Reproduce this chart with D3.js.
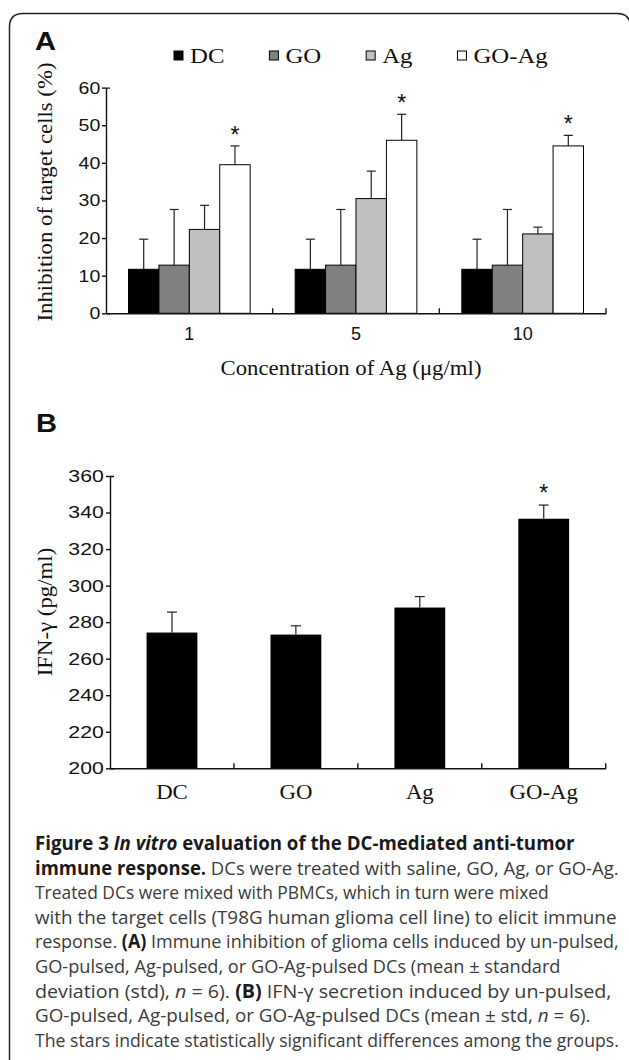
<!DOCTYPE html>
<html lang="en">
<head>
<meta charset="UTF-8" />
<title>Figure 3 - DC-mediated anti-tumor immune response</title>
<script src="https://cdn.jsdelivr.net/npm/d3@7"></script>
<style>
  body { margin: 0; background: #fff; }
</style>
</head>
<body>
<svg id="chart"></svg>
<script>
// ---- data ----
const concentrations = ["1", "5", "10"];
const groups = ["DC", "GO", "Ag", "GO-Ag"];

// panel A: inhibition of target cells (%), one value per concentration
const dcMean = [11.7, 11.7, 11.7];
const dcStd = [8.0, 8.0, 8.0];
const goMean = [12.8, 12.8, 12.8];
const goStd = [14.8, 14.8, 14.8];
const agMean = [22.3, 30.5, 21.1];
const agStd = [6.4, 7.3, 1.8];
const goAgMean = [39.5, 46.0, 44.5];
const goAgStd = [5.0, 6.9, 2.8];
const goAgSig = [true, true, true];
const yTicksA = [0, 10, 20, 30, 40, 50, 60];

// panel B: IFN-gamma (pg/ml)
const ifnMean = [274.3, 273.2, 288.0, 336.6];
const ifnStd = [11.2, 4.8, 6.0, 7.5];
const ifnSig = [false, false, false, true];
const yTicksB = [200, 220, 240, 260, 280, 300, 320, 340, 360];

const captionLines = [
  [["Figure 3 ", "b"], ["In vitro", "bi"], [" evaluation of the DC-mediated anti-tumor", "b"]],
  [["immune response.", "b"], [" DCs were treated with saline, GO, Ag, or GO-Ag.", ""]],
  [["Treated DCs were mixed with PBMCs, which in turn were mixed", ""]],
  [["with the target cells (T98G human glioma cell line) to elicit immune", ""]],
  [["response. ", ""], ["(A)", "b"], [" Immune inhibition of glioma cells induced by un-pulsed,", ""]],
  [["GO-pulsed, Ag-pulsed, or GO-Ag-pulsed DCs (mean \u00b1 standard", ""]],
  [["deviation (std), ", ""], ["n", "i"], [" = 6). ", ""], ["(B)", "b"], [" IFN-\u03b3 secretion induced by un-pulsed,", ""]],
  [["GO-pulsed, Ag-pulsed, or GO-Ag-pulsed DCs (mean \u00b1 std, ", ""], ["n", "i"], [" = 6).", ""]],
  [["The stars indicate statistically significant differences among the groups.", ""]]
];

// ---- setup ----
const serif = '"Liberation Serif", "Times New Roman", serif';
const sans = '"Liberation Sans", Arial, sans-serif';
const ink = "#111";

const svg = d3.select("#chart").attr("width", 629).attr("height", 1060);

// the figure's type is wider than the Liberation faces, so stretch it a bit
function stretch(sel, k) {
  sel.attr("transform", function () {
    return (this.getAttribute("transform") || "") + ` scale(${k},1)`;
  });
}

function putText(str, x, y, opts) {
  const t = svg.append("text")
    .attr("transform", `translate(${x},${y})` + (opts.rotate ? ` rotate(${opts.rotate})` : "") + ` scale(${opts.k || 1},1)`)
    .attr("font-family", opts.font)
    .attr("font-size", opts.size)
    .attr("font-weight", opts.weight || "normal")
    .attr("text-anchor", opts.anchor || "start")
    .attr("fill", ink)
    .text(str);
  return t;
}

// frame (open at the bottom, right side just off the picture)
svg.append("path")
  .attr("d", "M9.5,1062 V27 Q9.5,13.5 23,13.5 H617 Q630.5,13.5 630.5,27 V1062")
  .attr("fill", "none")
  .attr("stroke", "#222")
  .attr("stroke-width", 1.5);

// =================== panel A ===================
putText("A", 35, 50, { font: sans, size: 26, weight: "bold", k: 1.12 });

// legend
const fillA = d3.scaleOrdinal().domain(groups).range(["#000", "#808080", "#c0c0c0", "#fff"]);
let lx = 174;
groups.forEach(g => {
  svg.append("rect")
    .attr("x", lx).attr("y", 51).attr("width", 9).attr("height", 9)
    .attr("fill", fillA(g)).attr("stroke", "#000").attr("stroke-width", 1);
  const t = putText(g, lx + 16, 62.5, { font: serif, size: 21, k: 1.18 });
  lx += 16 + t.node().getComputedTextLength() * 1.18 + 45;
});

const yA = d3.scaleLinear().domain([0, 60]).range([313.3, 87.6]);
const x0A = d3.scaleBand().domain(concentrations).range([106, 606])
  .paddingInner(0.27).paddingOuter(0.135);
const x1A = d3.scaleBand().domain(groups).range([0, x0A.bandwidth()]);

const meansA = [dcMean, goMean, agMean, goAgMean];
const stdsA = [dcStd, goStd, agStd, goAgStd];
const tableA = [];
concentrations.forEach((c, i) => {
  groups.forEach((g, j) => {
    tableA.push({ c, g, mean: meansA[j][i], std: stdsA[j][i], star: j === 3 && goAgSig[i] });
  });
});

// error bars first, bars on top
const errA = svg.append("g").attr("stroke", "#222").attr("stroke-width", 1.2);
const cx = d => x0A(d.c) + x1A(d.g) + x1A.bandwidth() / 2;
errA.selectAll(".v").data(tableA).join("line")
  .attr("x1", cx).attr("x2", cx)
  .attr("y1", d => yA(d.mean)).attr("y2", d => yA(d.mean + d.std));
errA.selectAll(".c").data(tableA).join("line")
  .attr("x1", d => cx(d) - 4.5).attr("x2", d => cx(d) + 4.5)
  .attr("y1", d => yA(d.mean + d.std)).attr("y2", d => yA(d.mean + d.std));

svg.append("g").selectAll("rect").data(tableA).join("rect")
  .attr("x", d => x0A(d.c) + x1A(d.g))
  .attr("y", d => yA(d.mean))
  .attr("width", x1A.bandwidth())
  .attr("height", d => yA(0) - yA(d.mean))
  .attr("fill", d => fillA(d.g))
  .attr("stroke", "#000")
  .attr("stroke-width", 1);

svg.append("g").selectAll("text").data(tableA.filter(d => d.star)).join("text")
  .attr("x", cx)
  .attr("y", d => yA(d.mean + d.std) - 3)
  .attr("text-anchor", "middle")
  .attr("font-family", sans).attr("font-size", 23).attr("fill", ink)
  .text("*");

// axes A
const gyA = svg.append("g").attr("transform", "translate(106,0)")
  .call(d3.axisLeft(yA).tickValues(yTicksA).tickSize(4).tickSizeOuter(-4).tickPadding(1));
gyA.selectAll("text").attr("font-family", sans).attr("font-size", 17).attr("fill", ink).call(stretch, 1.15);

const gxA = svg.append("g").attr("transform", "translate(0,313.3)")
  .call(d3.axisBottom(x0A).tickSize(0).tickSizeOuter(0).tickPadding(14));
gxA.selectAll("text").attr("font-family", sans).attr("font-size", 18).attr("fill", ink);

svg.append("g").selectAll("line").data(concentrations).join("line")
  .attr("x1", c => x0A(c) - x0A.step() * x0A.paddingOuter() + x0A.step())
  .attr("x2", c => x0A(c) - x0A.step() * x0A.paddingOuter() + x0A.step())
  .attr("y1", 313.3).attr("y2", 308.3)
  .attr("stroke", ink).attr("stroke-width", 1.4);

[gyA, gxA].forEach(g => g.selectAll("path, line").attr("stroke", ink).attr("stroke-width", 1.4));

putText("Concentration of Ag (\u03bcg/ml)", 351, 374.5, { font: serif, size: 20, anchor: "middle", k: 1.14 });
putText("Inhibition of target cells (%)", 52, 192, { font: serif, size: 20, anchor: "middle", rotate: -90, k: 1.14 });

// =================== panel B ===================
putText("B", 36, 432, { font: sans, size: 26, weight: "bold", k: 1.12 });

const yB = d3.scaleLinear().domain([200, 360]).range([768.3, 476]);
const xB = d3.scaleBand().domain(groups).range([110, 605.7])
  .paddingInner(0.59).paddingOuter(0.295);
const tableB = groups.map((g, i) => ({ g, mean: ifnMean[i], std: ifnStd[i], star: ifnSig[i] }));
const cxB = d => xB(d.g) + xB.bandwidth() / 2;

const errB = svg.append("g").attr("stroke", "#222").attr("stroke-width", 1.2);
errB.selectAll(".v").data(tableB).join("line")
  .attr("x1", cxB).attr("x2", cxB)
  .attr("y1", d => yB(d.mean)).attr("y2", d => yB(d.mean + d.std));
errB.selectAll(".c").data(tableB).join("line")
  .attr("x1", d => cxB(d) - 5).attr("x2", d => cxB(d) + 5)
  .attr("y1", d => yB(d.mean + d.std)).attr("y2", d => yB(d.mean + d.std));

svg.append("g").selectAll("rect").data(tableB).join("rect")
  .attr("x", d => xB(d.g))
  .attr("y", d => yB(d.mean))
  .attr("width", xB.bandwidth())
  .attr("height", d => yB(200) - yB(d.mean))
  .attr("fill", "#000");

svg.append("g").selectAll("text").data(tableB.filter(d => d.star)).join("text")
  .attr("x", cxB)
  .attr("y", d => yB(d.mean + d.std) - 4)
  .attr("text-anchor", "middle")
  .attr("font-family", sans).attr("font-size", 23).attr("fill", ink)
  .text("*");

const gyB = svg.append("g").attr("transform", "translate(110,0)")
  .call(d3.axisLeft(yB).tickValues(yTicksB).tickSize(4).tickSizeOuter(-4).tickPadding(1));
gyB.selectAll("text").attr("font-family", sans).attr("font-size", 17).attr("fill", ink).call(stretch, 1.25);

const gxB = svg.append("g").attr("transform", "translate(0,768.3)")
  .call(d3.axisBottom(xB).tickSize(0).tickSizeOuter(0).tickPadding(17));
gxB.selectAll("text").attr("font-family", serif).attr("font-size", 20).attr("fill", ink).call(stretch, 1.14);

svg.append("g").selectAll("line").data(groups).join("line")
  .attr("x1", g => xB(g) - xB.step() * xB.paddingOuter() + xB.step())
  .attr("x2", g => xB(g) - xB.step() * xB.paddingOuter() + xB.step())
  .attr("y1", 768.3).attr("y2", 763.3)
  .attr("stroke", ink).attr("stroke-width", 1.4);

[gyB, gxB].forEach(g => g.selectAll("path, line").attr("stroke", ink).attr("stroke-width", 1.4));

putText("IFN-\u03b3 (pg/ml)", 52, 612, { font: serif, size: 20, anchor: "middle", rotate: -90, k: 1.14 });

// =================== caption ===================
// right end of each printed line in the original layout
const captionRight = [575, 619, 549, 617, 619, 561, 612, 591, 619];
const cap = svg.append("g")
  .attr("font-family", '"Open Sans", "Noto Sans", sans-serif')
  .attr("font-size", 19);
captionLines.forEach((segs, i) => {
  const t = cap.append("text").attr("x", 0).attr("y", 0);
  segs.forEach(([s, st]) => {
    t.append("tspan")
      .attr("font-weight", st.includes("b") ? "bold" : "normal")
      .attr("font-style", st.includes("i") ? "italic" : "normal")
      .attr("fill", st.includes("b") ? "#1a1a1a" : "#3a3a3a")
      .text(s);
  });
  // squeeze each line to the width it has in the original
  const k = (captionRight[i] - 35) / t.node().getComputedTextLength();
  t.attr("transform", `translate(35,${850 + i * 24.6}) scale(${k},1)`);
});
</script>
</body>
</html>
